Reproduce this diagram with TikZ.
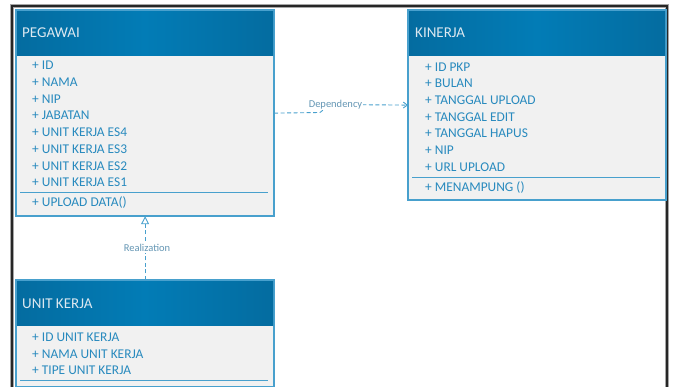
\documentclass[tikz,border=0pt]{standalone}
\usepackage{fontspec}
\setmainfont{Carlito}
\usetikzlibrary{arrows.meta}
\definecolor{hdrdark}{RGB}{4,108,160}
\definecolor{hdrmid}{RGB}{2,124,182}
\definecolor{bodyfill}{RGB}{241,241,241}
\definecolor{edgeblue}{RGB}{72,160,205}
\definecolor{attrblue}{RGB}{40,138,190}
\definecolor{lblblue}{RGB}{100,150,180}
\definecolor{titlewhite}{RGB}{220,232,240}
\tikzset{
  classbody/.style={draw=edgeblue, line width=1.2pt, fill=bodyfill, rectangle, anchor=north west, inner sep=0pt},
  classhdr/.style={rectangle, anchor=north west, inner sep=0pt, left color=hdrdark, right color=hdrdark, middle color=hdrmid},
  classtitle/.style={anchor=west, text=titlewhite, font=\fontsize{15}{17}\selectfont, inner sep=0pt},
  attrtxt/.style={anchor=west, text=attrblue, font=\fontsize{13.4}{15}\selectfont, inner sep=0pt},
  sepline/.style={draw=edgeblue, line width=0.8pt},
  conlabel/.style={text=lblblue, font=\fontsize{10.5}{12}\selectfont, fill=white, inner sep=1pt},
  depline/.style={draw=edgeblue, dashed, dash pattern=on 4pt off 2.5pt, line width=0.9pt},
}
\begin{document}
\begin{tikzpicture}[x=1pt,y=-1pt]
\useasboundingbox (0,0) rectangle (675,387);
% frame
\draw[black!35, line width=3.2pt] (12,387) -- (12,6) -- (667,6) -- (667,387);
\draw[black!85, line width=1.6pt] (12,387) -- (12,6) -- (667,6) -- (667,387);

% PEGAWAI
\node[classbody, minimum width=257pt, minimum height=205pt] (peg) at (16,10) {};
\node[classhdr, minimum width=257pt, minimum height=45pt] (peghdr) at (16,10) {};
\draw[edgeblue, line width=1.2pt] (peg.north west) rectangle (peg.south east);
\node[classtitle] (pegt) at (22,32.5) {PEGAWAI};
\node[attrtxt] (pa1) at (32,65) {+ ID};
\node[attrtxt] (pa2) at (32,82) {+ NAMA};
\node[attrtxt] (pa3) at (32,99) {+ NIP};
\node[attrtxt] (pa4) at (32,115.5) {+ JABATAN};
\node[attrtxt] (pa5) at (32,132.5) {+ UNIT KERJA ES4};
\node[attrtxt] (pa6) at (32,149) {+ UNIT KERJA ES3};
\node[attrtxt] (pa7) at (32,166) {+ UNIT KERJA ES2};
\node[attrtxt] (pa8) at (32,182.5) {+ UNIT KERJA ES1};
\draw[sepline] (20,192) -- (268,192);
\node[attrtxt] (pm1) at (32,203) {+ UPLOAD DATA()};

% KINERJA
\node[classbody, minimum width=257pt, minimum height=189pt] (kin) at (408,10) {};
\node[classhdr, minimum width=257pt, minimum height=45pt] (kinhdr) at (408,10) {};
\draw[edgeblue, line width=1.2pt] (kin.north west) rectangle (kin.south east);
\node[classtitle] (kint) at (415,32.5) {KINERJA};
\node[attrtxt] (ka1) at (425,67) {+ ID PKP};
\node[attrtxt] (ka2) at (425,83.5) {+ BULAN};
\node[attrtxt] (ka3) at (425,100) {+ TANGGAL UPLOAD};
\node[attrtxt] (ka4) at (425,117) {+ TANGGAL EDIT};
\node[attrtxt] (ka5) at (425,133.5) {+ TANGGAL HAPUS};
\node[attrtxt] (ka6) at (425,150) {+ NIP};
\node[attrtxt] (ka7) at (425,167) {+ URL UPLOAD};
\draw[sepline] (412,177) -- (660,177);
\node[attrtxt] (km1) at (425,188) {+ MENAMPUNG ()};

% UNIT KERJA
\node[classbody, minimum width=257pt, minimum height=106pt] (uk) at (16,280) {};
\node[classhdr, minimum width=257pt, minimum height=45pt] (ukhdr) at (16,280) {};
\draw[edgeblue, line width=1.2pt] (uk.north west) rectangle (uk.south east);
\node[classtitle] (ukt) at (22,303.5) {UNIT KERJA};
\node[attrtxt] (ua1) at (32,337) {+ ID UNIT KERJA};
\node[attrtxt] (ua2) at (32,354) {+ NAMA UNIT KERJA};
\node[attrtxt] (ua3) at (32,370.5) {+ TIPE UNIT KERJA};
\draw[sepline] (20,380.5) -- (268,380.5);

% Dependency
\coordinate (dk1) at (320,112.5);
\coordinate (dk2) at (330,104.5);
\draw[depline, -{Straight Barb[length=4pt,width=6pt]}] (peg.east) -- (dk1) -- (dk2) -- (kin.west);
\node[conlabel] (deplbl) at (335.5,105) {Dependency};

% Realization
\draw[depline, -{Triangle[open,length=8pt,width=8pt]}] (uk.north) -- (peg.south);
\node[conlabel] (reallbl) at (147,248) {Realization};
\end{tikzpicture}
\end{document}
